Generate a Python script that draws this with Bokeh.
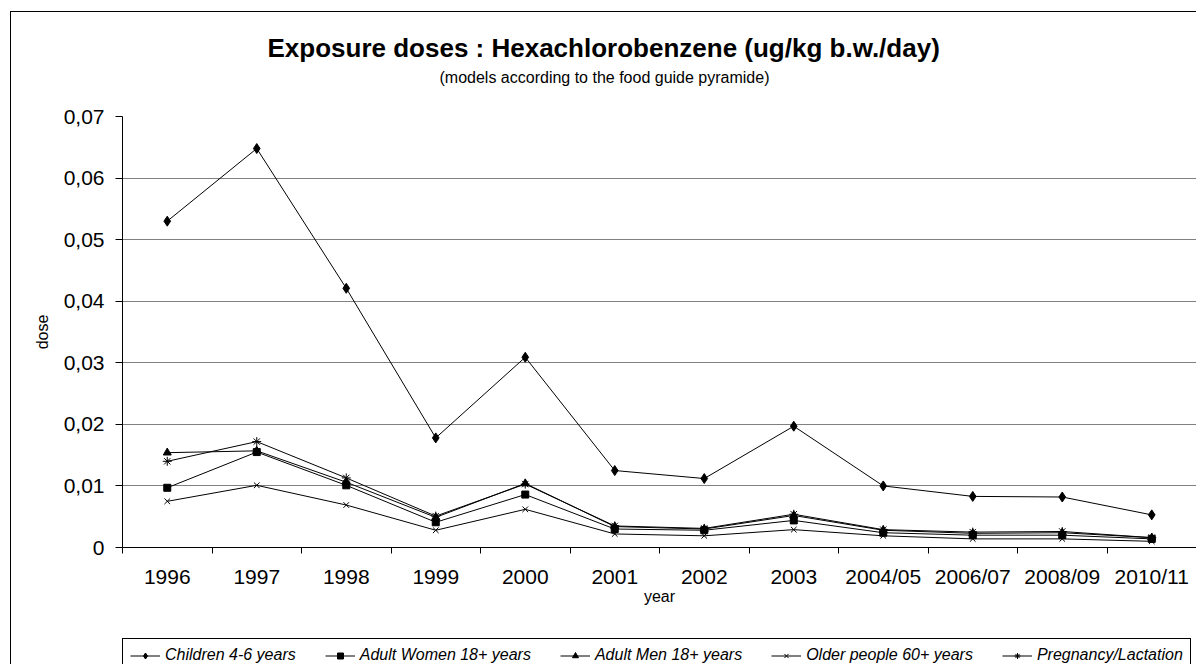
from bokeh.plotting import figure
from bokeh.models import (Range1d, FixedTicker, CustomJSTickFormatter, Legend, LegendItem, Title)
from bokeh.layouts import column
from bokeh.embed import file_html
from bokeh.resources import INLINE

years = ["1996", "1997", "1998", "1999", "2000", "2001", "2002", "2003",
         "2004/05", "2006/07", "2008/09", "2010/11"]
children = [0.0530, 0.0648, 0.0421, 0.0178, 0.0309, 0.0125, 0.0112, 0.0197, 0.0100, 0.0083, 0.0082, 0.0053]
women = [0.0097, 0.0155, 0.0101, 0.0041, 0.0086, 0.0030, 0.0028, 0.0044, 0.0024, 0.0020, 0.0020, 0.0014]
men = [0.0154, 0.0157, 0.0106, 0.0049, 0.0104, 0.0034, 0.0030, 0.0052, 0.0028, 0.0023, 0.0024, 0.0016]
older = [0.0075, 0.0101, 0.0069, 0.0028, 0.0062, 0.0022, 0.0019, 0.0029, 0.0019, 0.0014, 0.0014, 0.0010]
pregnancy = [0.0140, 0.0172, 0.0113, 0.0051, 0.0103, 0.0035, 0.0031, 0.0054, 0.0029, 0.0025, 0.0026, 0.0016]
y_ticks = [0, 0.01, 0.02, 0.03, 0.04, 0.05, 0.06, 0.07]

series = [
    ("Children 4-6 years", children, "diamond", 10),
    ("Adult Women 18+ years", women, "square", 7),
    ("Adult Men 18+ years", men, "triangle", 8),
    ("Older people 60+ years", older, "x", 8),
    ("Pregnancy/Lactation", pregnancy, "asterisk", 9),
]

FONT = "Liberation Sans"

# ---------------- main chart ----------------
p = figure(width=1196, height=638, output_backend="svg", toolbar_location=None,
           x_range=Range1d(0, len(years)), y_range=Range1d(0, 0.07),
           min_border_left=121, min_border_right=0, min_border_top=116, min_border_bottom=91)
p.outline_line_color = None
p.background_fill_color = "white"
p.border_fill_color = None
# outer chart border (left and top edges are visible in the reference)
p.styles = {
    "background-color": "white",
    "background-image": "linear-gradient(#000, #000), linear-gradient(#000, #000)",
    "background-size": "1px 100%, 100% 1px",
    "background-position": "10px 11px, 10px 11px",
    "background-repeat": "no-repeat",
}

xs = [i + 0.5 for i in range(len(years))]

for name, vals, marker, size in series:
    p.line(xs, vals, line_color="black", line_width=1)
    p.scatter(xs, vals, marker=marker, size=size, fill_color="black",
              line_color="black", line_width=1)

# x axis
xa = p.xaxis[0]
xa.ticker = FixedTicker(ticks=xs, minor_ticks=list(range(len(years) + 1)))
xa.formatter = CustomJSTickFormatter(args=dict(cats=years),
                                     code="return cats[Math.floor(tick)];")
xa.major_tick_out = 0
xa.major_tick_in = 0
xa.minor_tick_out = 6
xa.minor_tick_in = 0
xa.minor_tick_line_color = "black"
xa.axis_line_color = "black"
xa.major_label_text_font = FONT
xa.major_label_text_font_size = "21px"
xa.major_label_text_color = "black"
xa.major_label_standoff = 11
xa.axis_label = "year"
xa.axis_label_text_font = FONT
xa.axis_label_text_font_size = "16px"
xa.axis_label_text_font_style = "normal"
xa.axis_label_text_color = "black"
xa.axis_label_standoff = -3

# y axis
ya = p.yaxis[0]
ya.ticker = FixedTicker(ticks=y_ticks)
ya.formatter = CustomJSTickFormatter(code="return tick < 1e-9 ? '0' : tick.toFixed(2).replace('.', ',');")
ya.major_tick_out = 7
ya.major_tick_in = 0
ya.minor_tick_line_color = None
ya.axis_line_color = "black"
ya.major_tick_line_color = "black"
ya.major_label_text_font = FONT
ya.major_label_text_font_size = "21px"
ya.major_label_text_color = "black"
ya.major_label_standoff = 11
ya.axis_label = "dose"
ya.axis_label_text_font = FONT
ya.axis_label_text_font_size = "16px"
ya.axis_label_text_font_style = "normal"
ya.axis_label_text_color = "black"
ya.axis_label_standoff = 10

p.xgrid.grid_line_color = None
p.ygrid.grid_line_color = "#808080"
p.ygrid.grid_line_width = 1

# titles, stacked upward from the frame (first a blank spacer)
p.add_layout(Title(text=" ", text_font=FONT, text_font_size="10px", standoff=16), "above")
p.add_layout(Title(text="(models according to the food guide pyramide)", align="left",
                   offset=317, standoff=4, text_font=FONT, text_font_size="16px",
                   text_font_style="normal", text_color="black"), "above")
p.add_layout(Title(text="Exposure doses : Hexachlorobenzene (ug/kg b.w./day)", align="left",
                   offset=145, standoff=4, text_font=FONT, text_font_size="26px",
                   text_font_style="bold", text_color="black"), "above")

# ---------------- legend strip ----------------
# the same series are drawn here out of view, only so that the legend has glyphs to show
pl = figure(width=1196, height=26, output_backend="svg", toolbar_location=None,
            x_axis_type=None, y_axis_type=None,
            x_range=Range1d(0, len(years)), y_range=Range1d(1, 2),
            min_border_left=122, min_border_right=0, min_border_top=0, min_border_bottom=0)
pl.outline_line_color = None
pl.background_fill_color = None
pl.border_fill_color = None
pl.grid.visible = False
pl.styles = {
    "background-color": "white",
    "background-image": "linear-gradient(#000, #000)",
    "background-size": "1px 100%",
    "background-position": "10px 0px",
    "background-repeat": "no-repeat",
}

items = []
for name, vals, marker, size in series:
    r1 = pl.line(xs, vals, line_color="black", line_width=1)
    r2 = pl.scatter(xs, vals, marker=marker, size=size, fill_color="black",
                    line_color="black", line_width=1)
    items.append(LegendItem(label=name, renderers=[r1, r2]))

legend = Legend(items=items, orientation="horizontal", location="top_left",
                label_text_font=FONT, label_text_font_size="16px",
                label_text_font_style="italic", label_text_color="black",
                glyph_width=30, glyph_height=15, label_standoff=5, label_height=17,
                spacing=29, padding=7, margin=0,
                border_line_color="black", border_line_width=1, border_line_alpha=1,
                background_fill_color="white", background_fill_alpha=1)
pl.add_layout(legend)

layout = column(p, pl, spacing=0)
open("out.html", "w").write(file_html(layout, INLINE))
